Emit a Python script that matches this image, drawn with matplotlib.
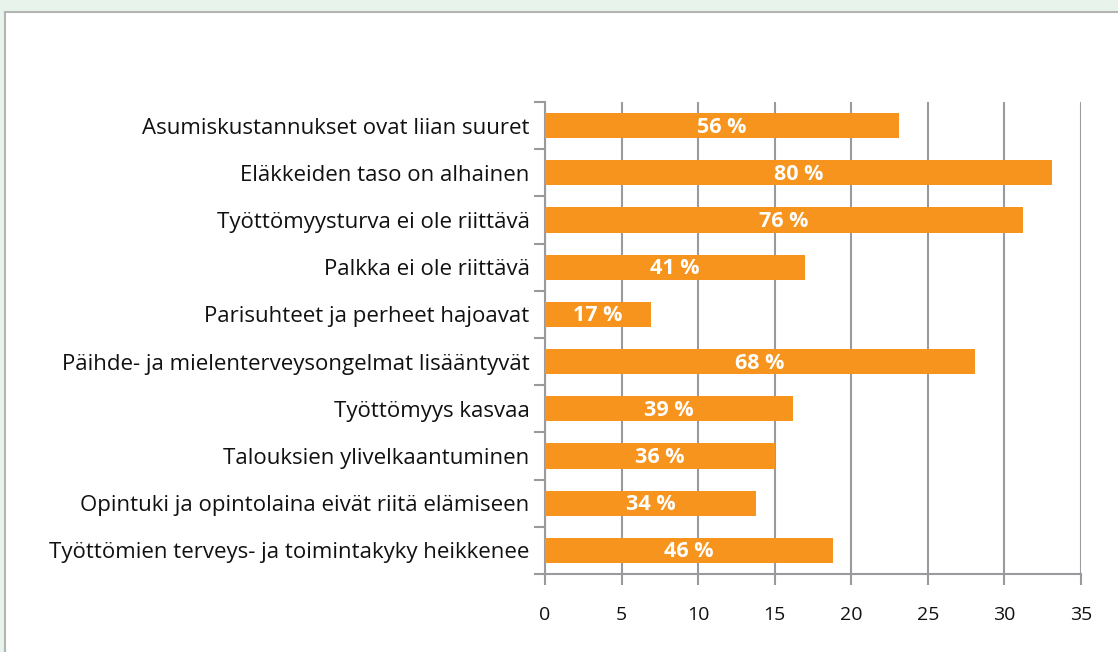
import numpy as np
import matplotlib.pyplot as plt
from matplotlib.patches import Rectangle

# Data
categories = [
    'Asumiskustannukset ovat liian suuret',
    'Eläkkeiden taso on alhainen',
    'Työttömyysturva ei ole riittävä',
    'Palkka ei ole riittävä',
    'Parisuhteet ja perheet hajoavat',
    'Päihde- ja mielenterveysongelmat lisääntyvät',
    'Työttömyys kasvaa',
    'Talouksien ylivelkaantuminen',
    'Opintuki ja opintolaina eivät riitä elämiseen',
    'Työttömien terveys- ja toimintakyky heikkenee',
]
bar_values = [23.1, 33.1, 31.2, 16.95, 6.9, 28.1, 16.2, 15.0, 13.8, 18.8]
pct_labels = ['56 %', '80 %', '76 %', '41 %', '17 %', '68 %', '39 %', '36 %', '34 %', '46 %']
x_ticks = [0, 5, 10, 15, 20, 25, 30, 35]

ORANGE = '#F7941D'
GRID = '#9a9a9e'

plt.rcParams['font.family'] = ['Open Sans', 'DejaVu Sans']

fig = plt.figure(figsize=(11.18, 6.52), dpi=100)
fig.patch.set_facecolor('#e7f3eb')
# white panel with grey border
fig.patches.append(Rectangle((5 / 1118, -0.05), 1.2, 1 - 12 / 652 + 0.05,
                             transform=fig.transFigure, facecolor='white',
                             edgecolor='#b4b4b4', linewidth=1.5, zorder=-10))

ax = fig.add_axes([545 / 1118, 1 - 574 / 652, (1081 - 545) / 1118, (574 - 102) / 652])
ax.set_facecolor('none')

y = np.arange(len(categories))
ax.barh(y, bar_values, height=0.53, color=ORANGE, zorder=3)
for yi, v, lab in zip(y, bar_values, pct_labels):
    ax.text(v / 2, yi + 0.03, lab, ha='center', va='center', color='white',
            fontsize=15.5, fontweight='bold', zorder=4)

ax.set_ylim(len(categories) - 0.5, -0.5)
ax.set_xlim(0, 35)
ax.set_yticks(y)
ax.set_yticklabels(categories, fontsize=16, color='#111111')
ax.set_yticks(np.arange(-0.5, len(categories)), minor=True)
ax.tick_params(axis='y', which='major', length=0, pad=11)
ax.tick_params(axis='y', which='minor', length=8, width=1.5, color=GRID)
ax.set_xticks(x_ticks)
ax.set_xticklabels([str(t) for t in x_ticks], fontsize=14, color='#111111')
ax.tick_params(axis='x', length=8, width=1.5, color=GRID, pad=15)

ax.grid(axis='x', color=GRID, linewidth=1.5, zorder=1)
for s in ['top', 'right']:
    ax.spines[s].set_visible(False)
for s in ['left', 'bottom']:
    ax.spines[s].set_color(GRID)
    ax.spines[s].set_linewidth(1.5)

fig.savefig('out.png', dpi=100, facecolor=fig.get_facecolor())
